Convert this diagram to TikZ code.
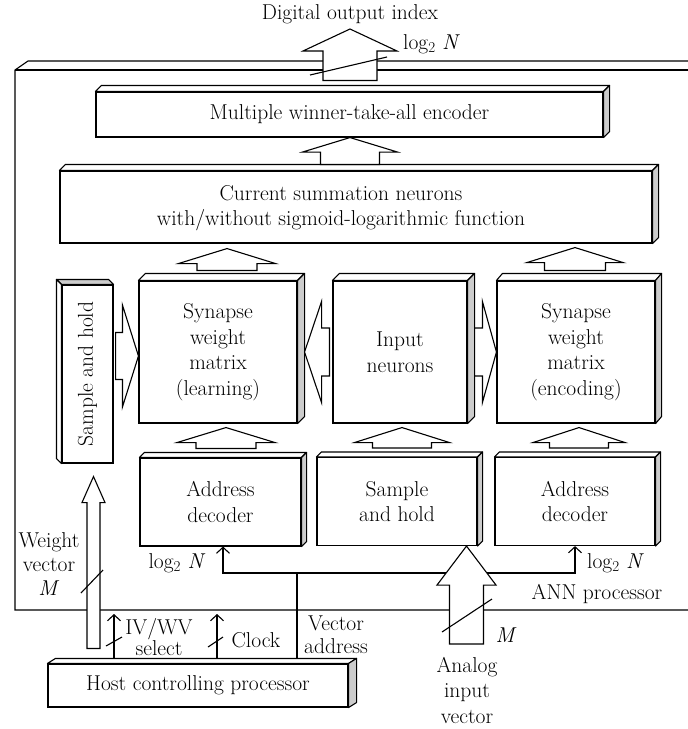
\documentclass[tikz,border=0pt]{standalone}
\usepackage{fontspec}
\usetikzlibrary{calc,arrows.meta}
\definecolor{sidegray}{gray}{0.8}
\tikzset{
  txt/.style={font=\fontsize{21.5}{25}\selectfont, inner sep=0pt, align=center},
  box/.style={draw, line width=1.1pt, fill=white, font=\fontsize{21.5}{25.5}\selectfont, align=center, inner sep=0pt},
  face/.style={draw, line width=1.1pt, fill=white, line join=round},
  sideface/.style={face, fill=sidegray},
  barrow/.style={draw, line width=1.1pt, fill=white, line join=miter},
  sig/.style={line width=1.1pt},
  sigarrow/.style={sig, -{Straight Barb[length=6pt,width=13pt,line width=1.1pt]}},
  slash/.style={line width=1.1pt},
}
% 3D faces: top (white) and right side (gray)
\newcommand\threed[3]{%
  \draw[face] (#1.north west) -- ++(#2,-#3) -- ([shift={(#2,-#3)}]#1.north east) -- (#1.north east) -- cycle;
  \draw[sideface] (#1.north east) -- ++(#2,-#3) -- ([shift={(#2,-#3)}]#1.south east) -- (#1.south east) -- cycle;}
% rotated 3D faces: top (gray) and left side (white)
\newcommand\threedrot[3]{%
  \draw[sideface] (#1.north west) -- ++(-#2,-#3) -- ([shift={(-#2,-#3)}]#1.north east) -- (#1.north east) -- cycle;
  \draw[face] (#1.north west) -- ++(-#2,-#3) -- ([shift={(-#2,-#3)}]#1.south west) -- (#1.south west) -- cycle;}
% block arrows: tail, tip, head half-width, shaft half-width, head length
\newcommand\barrowup[5]{%
  \path[barrow] let \p1=#1, \p2=#2 in
    (\x1-#4,\y1) -- (\x1-#4,\y2-#5) -- (\x1-#3,\y2-#5) -- (\x1,\y2) -- (\x1+#3,\y2-#5) -- (\x1+#4,\y2-#5) -- (\x1+#4,\y1) -- cycle;}
\newcommand\barrowright[5]{%
  \path[barrow] let \p1=#1, \p2=#2 in
    (\x1,\y1+#4) -- (\x2-#5,\y1+#4) -- (\x2-#5,\y1+#3) -- (\x2,\y1) -- (\x2-#5,\y1-#3) -- (\x2-#5,\y1-#4) -- (\x1,\y1-#4) -- cycle;}
\newcommand\barrowleft[5]{%
  \path[barrow] let \p1=#1, \p2=#2 in
    (\x1,\y1+#4) -- (\x2+#5,\y1+#4) -- (\x2+#5,\y1+#3) -- (\x2,\y1) -- (\x2+#5,\y1-#3) -- (\x2+#5,\y1-#4) -- (\x1,\y1-#4) -- cycle;}
\begin{document}
\begin{tikzpicture}[x=1pt, y=-1pt]
\useasboundingbox (0,0) rectangle (688,729);

% helper coordinates
\coordinate (xo) at (350,0);
\coordinate (xl) at (227,0);
\coordinate (xe) at (575,0);
\coordinate (xbl) at (226,0);
\coordinate (xbm) at (402,0);
\coordinate (xbr) at (579,0);
\coordinate (xw) at (93.5,0);
\coordinate (xa) at (466.5,0);
\coordinate (xiv) at (114,0);
\coordinate (xck) at (217,0);
\coordinate (xva) at (297,0);
\coordinate (ybus) at (0,573);
\coordinate (yh1) at (0,356);
\coordinate (yh2) at (0,352);
\coordinate (outtip) at (350,29);
\coordinate (atail) at (466.5,644);
\coordinate (ivtip) at (114,614);
\coordinate (cktip) at (217,614);

% outer ANN processor frame
\draw[sig] (688,61) -- (28,61) -- (15,70) -- (15,610) -- (688,610);
\draw[sig] (15,70) -- (688,70);

% boxes
\node[box, minimum width=507pt, minimum height=45pt] (mwta) at (349.5,114.5) {Multiple winner-take-all encoder};
\threed{mwta}{6}{6}
\node[box, minimum width=592pt, minimum height=72pt] (cs) at (356,207) {};
\threed{cs}{6}{6}
\node[txt] (cstext) at (341,208) {Current summation neurons\\with/without sigmoid-logarithmic function};

\node[box, minimum width=51pt, minimum height=178pt] (shv) at (87.5,374) {};
\threedrot{shv}{5}{5}
\node[txt, rotate=90] (shvtext) at (shv.center) {Sample and hold};

\node[box, minimum width=158pt, minimum height=142pt] (swl) at (218,352) {Synapse\\weight\\matrix\\(learning)};
\threed{swl}{7}{7}
\node[box, minimum width=134pt, minimum height=142pt] (inp) at (400,352) {Input\\neurons};
\threed{inp}{7}{7}
\node[box, minimum width=158pt, minimum height=142pt] (swe) at (576,352) {Synapse\\weight\\matrix\\(encoding)};
\threed{swe}{6}{7}

\node[box, minimum width=161pt, minimum height=88pt] (adl) at (220.5,502) {Address\\decoder};
\threed{adl}{5}{5}
\node[box, minimum width=160pt, minimum height=88pt] (shm) at (397,501.5) {Sample\\and hold};
\threed{shm}{5}{5}
\node[box, minimum width=160pt, minimum height=88pt] (adr) at (575,501.5) {Address\\decoder};
\threed{adr}{5}{5}

\node[box, minimum width=300pt, minimum height=43pt] (host) at (198,685.5) {Host controlling processor};
\threed{host}{8}{5}

% vector address bus
\draw[sig] ($(xva |- host.north)+(0,-5)$) -- (xva |- ybus);
\draw[sigarrow] (xva |- ybus) -| ($(adl.south)+(2.5,0)$);
\draw[sigarrow] (xva |- ybus) -| (adr.south);
% IV/WV select and clock
\draw[sigarrow] ($(xiv |- host.north)+(0,-5)$) -- (ivtip);
\draw[sigarrow] ($(xck |- host.north)+(0,-5)$) -- (cktip);

% block arrows
\barrowup{($(xo |- mwta.north)+(0,-11)$)}{(outtip)}{47pt}{27pt}{22pt}
\barrowup{($(xo |- cs.north)+(0,-6)$)}{(xo |- mwta.south)}{47.5pt}{29.5pt}{14.5pt}
\barrowup{($(xl |- swl.north)+(0,-10)$)}{($(xl |- cs.south)+(0,5)$)}{48.5pt}{30pt}{15pt}
\barrowup{($(xe |- swe.north)+(0,-10)$)}{($(xe |- cs.south)+(0,4)$)}{48pt}{30.5pt}{15pt}
\barrowup{($(xbl |- adl.north)+(0,-9)$)}{($(xbl |- swl.south)+(0,4)$)}{49pt}{30pt}{15pt}
\barrowup{($(xbm |- shm.north)+(0,-9)$)}{($(xbm |- inp.south)+(0,4)$)}{47.5pt}{29.5pt}{15pt}
\barrowup{($(xbr |- adr.north)+(0,-9)$)}{($(xbr |- swe.south)+(0,4)$)}{46pt}{29.5pt}{15pt}
\barrowright{($(shv.east |- yh1)+(2,0)$)}{(swl.west |- yh1)}{51pt}{23.5pt}{16pt}
\barrowleft{($(inp.west |- yh2)+(-3,0)$)}{($(swl.east |- yh2)+(7,0)$)}{50.5pt}{24pt}{17pt}
\barrowright{($(inp.east |- yh2)+(7,0)$)}{(swe.west |- yh2)}{50.5pt}{24pt}{14pt}
\barrowup{($(xw |- host.north)+(0,-15)$)}{($(xw |- shv.south)+(0,13)$)}{11.5pt}{6.5pt}{26pt}
\barrowup{(atail)}{(xa |- shm.south)}{29.5pt}{17pt}{39pt}

% bus-width slashes
\draw[slash] (310,75) -- (387,57);
\draw[slash] (81,593) -- (103,570);
\draw[slash] (442,632) -- (492,599);
\draw[slash] (106,646) -- (122,637);
\draw[slash] (208,647) -- (223,637);

% labels
\node[txt] (dout) at (350,14) {Digital output index};
\node[txt, anchor=west] (lgo) at (403,44) {log\textsubscript{2} \textit{N}};
\node[txt] (lgl) at (177,563) {log\textsubscript{2} \textit{N}};
\node[txt, anchor=west] (lgr) at (587,563) {log\textsubscript{2} \textit{N}};
\node[txt] (annp) at (597,594) {ANN processor};
\node[txt, font=\fontsize{21.5}{24}\selectfont] (wv) at (49,564) {Weight\\vector\\\textit{M}};
\node[txt, font=\fontsize{21.5}{21}\selectfont] (ivwv) at (159,637) {IV/WV\\select};
\node[txt] (clk) at (256,640) {Clock};
\node[txt, font=\fontsize{21.5}{23}\selectfont] (vad) at (336,635) {Vector\\address};
\node[txt] (mlab) at (506,635) {\textit{M}};
\node[txt, font=\fontsize{21.5}{25.5}\selectfont] (ain) at (467,690) {Analog\\input\\vector};
\end{tikzpicture}
\end{document}
